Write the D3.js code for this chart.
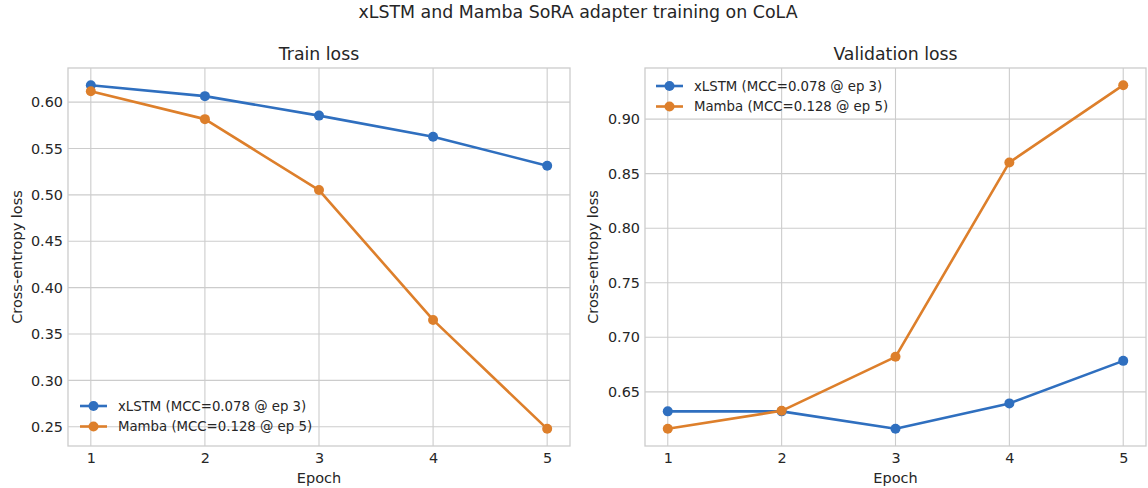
<!DOCTYPE html>
<html>
<head>
<meta charset="utf-8">
<script src="https://cdn.jsdelivr.net/npm/d3@7/dist/d3.min.js"></script>
<style>
  html, body { margin: 0; padding: 0; background: #ffffff; }
  svg { display: block; font-family: "DejaVu Sans", sans-serif; }
</style>
</head>
<body>
<svg id="chart" width="1148" height="488"></svg>
<script>
// Epochs and per-epoch losses
const epochs = [1, 2, 3, 4, 5];
const trainXlstm = [0.6183, 0.6065, 0.5855, 0.5627, 0.5315];
const trainMamba = [0.6118, 0.5817, 0.5052, 0.3652, 0.2478];
const valXlstm = [0.6321, 0.6321, 0.6162, 0.6394, 0.6784];
const valMamba = [0.6161, 0.6326, 0.6821, 0.8603, 0.9311];

const trainTicks = [0.25, 0.30, 0.35, 0.40, 0.45, 0.50, 0.55, 0.60];
const valTicks = [0.65, 0.70, 0.75, 0.80, 0.85, 0.90];

const seriesNames = ["xLSTM (MCC=0.078 @ ep 3)", "Mamba (MCC=0.128 @ ep 5)"];
const colors = ["#2f6fbf", "#dd7f2b"];

const suptitle = "xLSTM and Mamba SoRA adapter training on CoLA";
const panelTitles = ["Train loss", "Validation loss"];
const xLabel = "Epoch";
const yLabel = "Cross-entropy loss";

const svg = d3.select("#chart");
const textColor = "#262626";
const gridColor = "#cccccc";

svg.append("text")
  .attr("x", 578).attr("y", 17.5)
  .attr("text-anchor", "middle")
  .attr("font-size", 17.4).attr("fill", textColor)
  .text(suptitle);

// Extend a data range by 5% on each side
function padded(values) {
  const [lo, hi] = d3.extent(values);
  const m = (hi - lo) * 0.05;
  return [lo - m, hi + m];
}

const panels = [
  { left: 68, right: 570, data: [trainXlstm, trainMamba], ticks: trainTicks,
    title: panelTitles[0], legend: { x: 80, y: 406 }, ylabX: 17 },
  { left: 645, right: 1146, data: [valXlstm, valMamba], ticks: valTicks,
    title: panelTitles[1], legend: { x: 656, y: 86 }, ylabX: 593 }
];
const plotTop = 68, plotBottom = 446;

panels.forEach(p => {
  const x = d3.scaleLinear().domain([0.8, 5.2]).range([p.left, p.right]);
  const y = d3.scaleLinear().domain(padded(p.data.flat())).range([plotBottom, plotTop]);
  const g = svg.append("g");

  // grid
  g.append("g").selectAll("line").data(epochs).join("line")
    .attr("x1", d => x(d)).attr("x2", d => x(d))
    .attr("y1", plotTop).attr("y2", plotBottom)
    .attr("stroke", gridColor).attr("stroke-width", 1.1);
  g.append("g").selectAll("line").data(p.ticks).join("line")
    .attr("x1", p.left).attr("x2", p.right)
    .attr("y1", d => y(d)).attr("y2", d => y(d))
    .attr("stroke", gridColor).attr("stroke-width", 1.1);

  // axes
  const xAxis = g.append("g").attr("transform", `translate(0,${plotBottom})`)
    .call(d3.axisBottom(x).tickValues(epochs).tickFormat(d3.format("d")).tickSize(0).tickPadding(6));
  const yAxis = g.append("g").attr("transform", `translate(${p.left},0)`)
    .call(d3.axisLeft(y).tickValues(p.ticks).tickFormat(d3.format(".2f")).tickSize(0).tickPadding(5));
  [xAxis, yAxis].forEach(a => {
    a.select(".domain").remove();
    a.selectAll("text").attr("font-size", 14.4).attr("fill", textColor)
      .attr("font-family", "DejaVu Sans, sans-serif");
  });
  xAxis.selectAll("text").attr("dy", "0.75em");

  // frame
  g.append("rect")
    .attr("x", p.left).attr("y", plotTop)
    .attr("width", p.right - p.left).attr("height", plotBottom - plotTop)
    .attr("fill", "none").attr("stroke", gridColor).attr("stroke-width", 1.3);

  // title and labels
  g.append("text").attr("x", (p.left + p.right) / 2).attr("y", 60)
    .attr("text-anchor", "middle").attr("font-size", 17.3).attr("fill", textColor)
    .text(p.title);
  g.append("text").attr("x", (p.left + p.right) / 2).attr("y", 483)
    .attr("text-anchor", "middle").attr("font-size", 14.5).attr("fill", textColor)
    .text(xLabel);
  g.append("text")
    .attr("transform", `translate(${p.ylabX + 5},${(plotTop + plotBottom) / 2}) rotate(-90)`)
    .attr("text-anchor", "middle").attr("font-size", 14.5).attr("fill", textColor)
    .text(yLabel);

  // lines and markers
  const line = d3.line().x((d, i) => x(epochs[i])).y(d => y(d));
  p.data.forEach((vals, si) => {
    g.append("path").datum(vals)
      .attr("d", line).attr("fill", "none")
      .attr("stroke", colors[si]).attr("stroke-width", 2.6)
      .attr("stroke-linejoin", "round").attr("stroke-linecap", "round");
    g.append("g").selectAll("circle").data(vals).join("circle")
      .attr("cx", (d, i) => x(epochs[i])).attr("cy", d => y(d))
      .attr("r", 5).attr("fill", colors[si]);
  });

  // legend
  const lg = g.append("g").attr("transform", `translate(${p.legend.x},${p.legend.y})`);
  seriesNames.forEach((name, si) => {
    const row = lg.append("g").attr("transform", `translate(0,${si * 20.5})`);
    row.append("line").attr("x1", 0).attr("x2", 27).attr("y1", 0).attr("y2", 0)
      .attr("stroke", colors[si]).attr("stroke-width", 2.6);
    row.append("circle").attr("cx", 13.5).attr("cy", 0).attr("r", 5).attr("fill", colors[si]);
    row.append("text").attr("x", 38).attr("y", 0).attr("dy", "0.35em")
      .attr("font-size", 13.3).attr("fill", textColor).text(name);
  });
});
</script>
</body>
</html>
